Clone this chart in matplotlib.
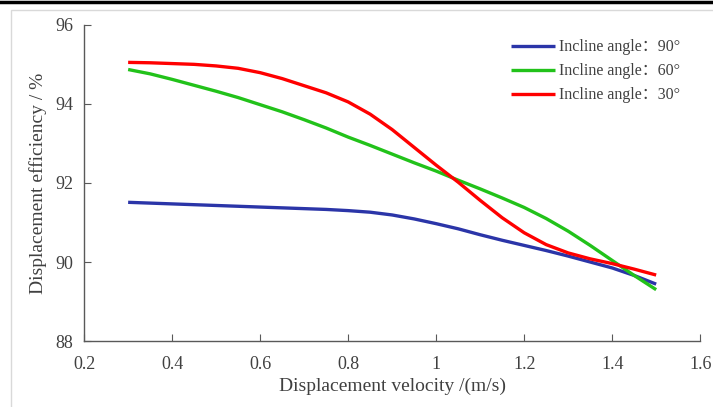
import matplotlib
matplotlib.use('Agg')
import matplotlib.pyplot as plt
import matplotlib.patches as mpatches
from matplotlib.lines import Line2D

plt.rcParams['font.family'] = ['Liberation Serif', 'Noto Sans CJK SC']

velocity = [0.30, 0.35, 0.40, 0.45, 0.50, 0.55, 0.60, 0.65, 0.70, 0.75, 0.80, 0.85, 0.90,
            0.95, 1.00, 1.05, 1.10, 1.15, 1.20, 1.25, 1.30, 1.35, 1.40, 1.45, 1.50]
eff_90 = [91.51, 91.49, 91.47, 91.45, 91.43, 91.41, 91.39, 91.37, 91.35, 91.33, 91.30, 91.26, 91.19,
          91.09, 90.97, 90.84, 90.69, 90.55, 90.42, 90.29, 90.15, 90.00, 89.85, 89.66, 89.44]
eff_60 = [94.87, 94.76, 94.62, 94.47, 94.32, 94.16, 93.98, 93.80, 93.60, 93.39, 93.16, 92.95, 92.73,
          92.51, 92.30, 92.07, 91.85, 91.62, 91.38, 91.10, 90.78, 90.42, 90.04, 89.66, 89.30]
eff_30 = [95.05, 95.04, 95.02, 95.00, 94.96, 94.90, 94.79, 94.64, 94.46, 94.28, 94.05, 93.74, 93.35,
          92.90, 92.45, 92.02, 91.56, 91.12, 90.74, 90.44, 90.23, 90.08, 89.96, 89.82, 89.67]

labels = ['Incline angle：90°', 'Incline angle：60°', 'Incline angle：30°']
colors = ['#2b35a8', '#22c21a', '#ff0000']

x_ticks = [0.2, 0.4, 0.6, 0.8, 1.0, 1.2, 1.4, 1.6]
x_ticklabels = ['0.2', '0.4', '0.6', '0.8', '1', '1.2', '1.4', '1.6']
y_ticks = [88, 90, 92, 94, 96]

fig = plt.figure(figsize=(7.13, 4.07), dpi=100)
ax = fig.add_axes([0.118, 0.162, 0.864, 0.777])

for ys, lab, c in zip([eff_90, eff_60, eff_30], labels, colors):
    ax.plot(velocity, ys, color=c, lw=2.4, label=lab, solid_capstyle='butt',
            solid_joinstyle='round')

ax.set_xlim(0.2, 1.6)
ax.set_ylim(88, 96)
ax.set_xticks(x_ticks)
ax.set_xticklabels(x_ticklabels)
ax.set_yticks(y_ticks)

for s in ['top', 'right']:
    ax.spines[s].set_visible(False)
for s in ['left', 'bottom']:
    ax.spines[s].set_color('#595959')
    ax.spines[s].set_linewidth(1.0)

ax.tick_params(direction='in', length=5, color='#595959', labelsize=13, labelcolor='#404040')
ax.tick_params(axis='x', pad=11)
ax.tick_params(axis='y', pad=8)
ax.set_xlabel('Displacement velocity /(m/s)', fontsize=14, color='#404040', labelpad=3)
ax.set_ylabel('Displacement efficiency / %', fontsize=14, color='#404040', labelpad=6)

ax.legend(loc='upper right', bbox_to_anchor=(0.99, 1.0), frameon=False, fontsize=11.5,
          handlelength=2.8, handletextpad=0.2, labelspacing=0.5, labelcolor='#404040')

# outer chart-area border like the source image
fig.add_artist(mpatches.Rectangle((11 / 713, -0.01), 1.0, 1 - 10 / 407 + 0.01,
                                  transform=fig.transFigure, fill=False,
                                  edgecolor='#d9d9d9', lw=1.0))
fig.add_artist(Line2D([0, 1], [1 - 1.5 / 407, 1 - 1.5 / 407], transform=fig.transFigure,
                      color='black', lw=2.5))

fig.savefig('out.png', dpi=100)
